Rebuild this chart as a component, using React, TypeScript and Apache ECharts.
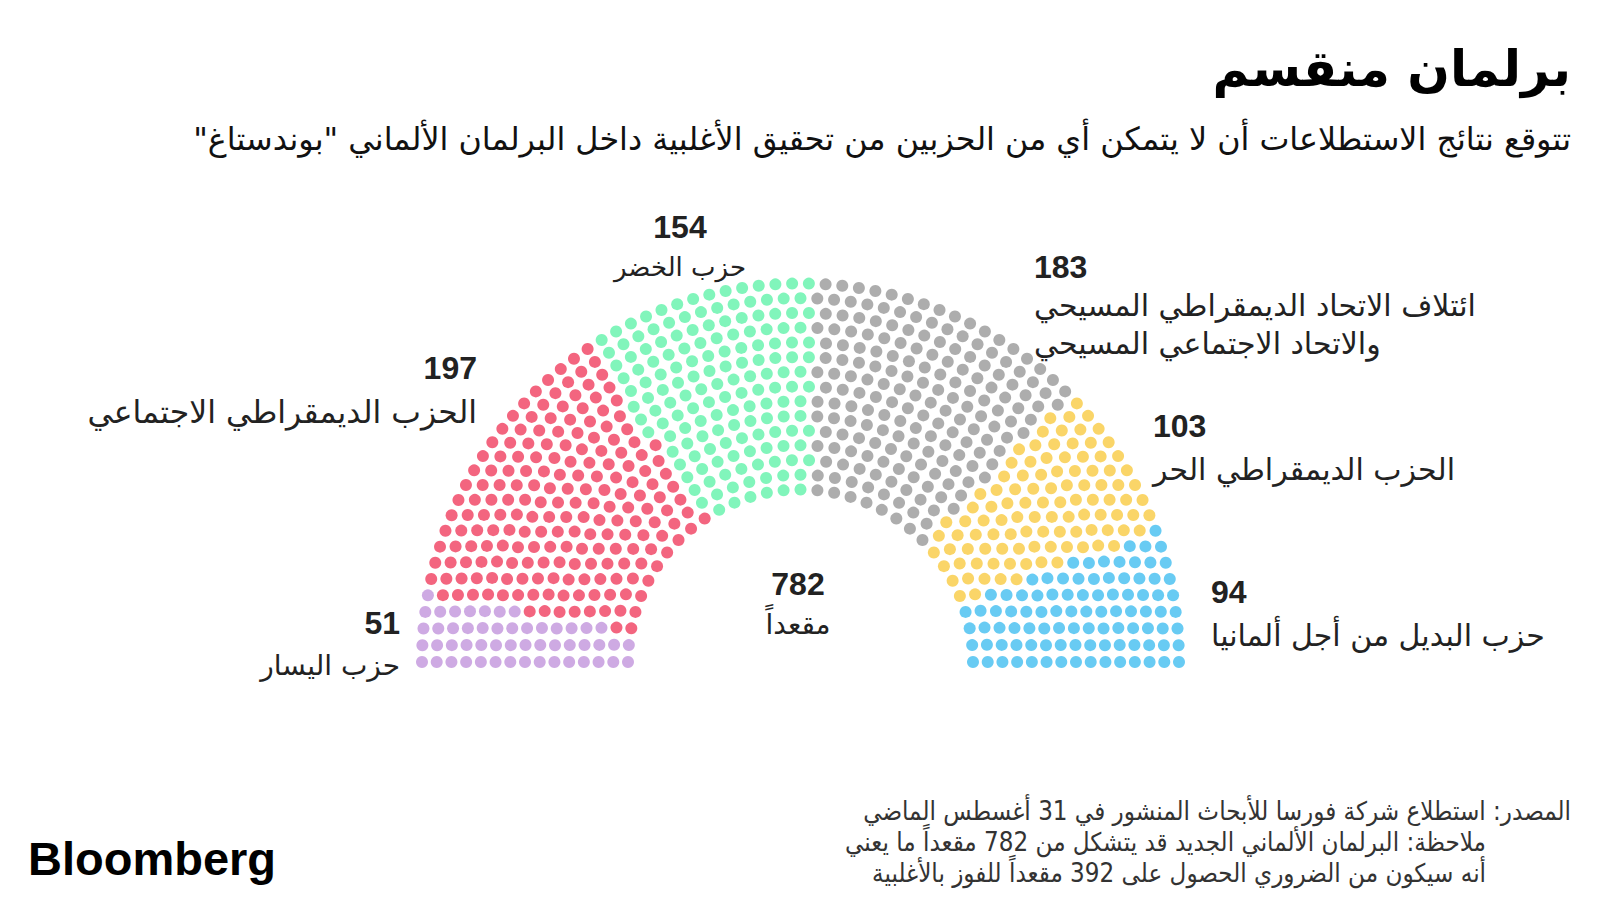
import React, { useEffect, useRef } from "react";
import * as echarts from "echarts";

// ---- Data ----
const partyNames = [
  "حزب اليسار",
  "الحزب الديمقراطي الاجتماعي",
  "حزب الخضر",
  "ائتلاف الاتحاد الديمقراطي المسيحي والاتحاد الاجتماعي المسيحي",
  "الحزب الديمقراطي الحر",
  "حزب البديل من أجل ألمانيا",
];
const partySeats = [51, 197, 154, 183, 103, 94];
const partyColors = ["#c295dc", "#f03e5f", "#62f2aa", "#999999", "#f9ca42", "#42bef0"];
const labelLines = [
  ["حزب اليسار"],
  ["الحزب الديمقراطي الاجتماعي"],
  ["حزب الخضر"],
  ["ائتلاف الاتحاد الديمقراطي المسيحي", "والاتحاد الاجتماعي المسيحي"],
  ["الحزب الديمقراطي الحر"],
  ["حزب البديل من أجل ألمانيا"],
];
const totalSeats = 782;
const totalLabel = "مقعداً";
const titleText = "برلمان منقسم";
const subtitleText =
  'تتوقع نتائج الاستطلاعات أن لا يتمكن أي من الحزبين من تحقيق الأغلبية داخل البرلمان الألماني "بوندستاغ"';
const footerLines = [
  "المصدر: استطلاع شركة فورسا للأبحاث المنشور في 31 أغسطس الماضي",
  "ملاحظة: البرلمان الألماني الجديد قد يتشكل من 782 مقعداً ما يعني",
  "أنه سيكون من الضروري الحصول على 392 مقعداً للفوز بالأغلبية",
];

// ---- Layout constants ----
const ROWS = 15;
const R_IN = 172.5;
const R_OUT = 378.5;
const CX = 800.5;
const CY = 662;
const DOT = 12;

const AR = "DejaVu Sans";
const NUM = "Liberation Sans";
const rtl = (s: string) => "\u202B" + s + "\u202C";

function buildSeats() {
  const radii = Array.from({ length: ROWS }, (_, i) => R_IN + ((R_OUT - R_IN) * i) / (ROWS - 1));
  const sumR = radii.reduce((a, b) => a + b, 0);
  const exact = radii.map((r) => (totalSeats * r) / sumR);
  const counts = exact.map((e) => Math.floor(e));
  const rem = totalSeats - counts.reduce((a, b) => a + b, 0);
  const order = exact
    .map((e, i) => [e - Math.floor(e), i])
    .sort((a, b) => b[0] - a[0]);
  for (let j = 0; j < rem; j++) counts[order[j][1]]++;
  const all: { r: number; a: number }[] = [];
  radii.forEach((r, i) => {
    const n = counts[i];
    for (let k = 0; k < n; k++) all.push({ r, a: (180 * k) / (n - 1) });
  });
  all.sort((p, q) => p.a - q.a || q.r - p.r);
  const groups: number[][][] = [];
  let idx = 0;
  partySeats.forEach((s) => {
    groups.push(all.slice(idx, idx + s).map((p) => [p.r, p.a]));
    idx += s;
  });
  return groups;
}

export default function App() {
  const ref = useRef<HTMLDivElement>(null);
  useEffect(() => {
    if (!ref.current) return;
    const chart = echarts.init(ref.current, undefined, { renderer: "svg" });
    const groups = buildSeats();

    const txt = (
      text: string,
      x: number,
      y: number,
      size: number,
      opts: { align?: string; weight?: string | number; family?: string; fill?: string } = {}
    ) => ({
      type: "text",
      x,
      y,
      silent: true,
      style: {
        text,
        fill: opts.fill || "#222",
        fontSize: size,
        fontWeight: opts.weight || "normal",
        fontFamily: opts.family || AR,
        align: opts.align || "left",
        verticalAlign: "middle",
      },
    });

    // label anchor positions: [x, numberY, textY, align]
    const anchors: [number, number, number, string][] = [
      [400, 623, 665, "right"],
      [477, 368, 412, "right"],
      [680, 227, 267, "center"],
      [1034, 267, 305, "left"],
      [1153, 426, 469, "left"],
      [1211, 592, 635, "left"],
    ];
    const labelSizes = [28, 31.5, 26, 30, 30, 30];

    const graphics: any[] = [
      txt(titleText, 1571, 69, 50, { align: "right", weight: "bold", fill: "#000" }),
      txt(rtl(subtitleText), 1571, 138, 31.8, { align: "right", fill: "#111" }),
      txt("Bloomberg", 28, 858, 47, { family: NUM, weight: "bold", fill: "#000" }),
      txt(String(totalSeats), 798, 584, 32, { align: "center", family: NUM, weight: "bold" }),
      txt(totalLabel, 798, 624, 28, { align: "center" }),
    ];
    anchors.forEach(([x, ny, ty, align], i) => {
      graphics.push(txt(String(partySeats[i]), x, ny, 32, { align, family: NUM, weight: "bold" }));
      labelLines[i].forEach((line, j) => {
        graphics.push(txt(rtl(line), x, ty + j * 38, labelSizes[i], { align }));
      });
    });
    const footerX = [1571, 1486, 1486];
    footerLines.forEach((line, i) => {
      graphics.push(
        txt(rtl(line), footerX[i], 811 + i * 31, 25.7, {
          align: "right",
          family: "DejaVu Sans Condensed",
          fill: "#333",
        })
      );
    });

    chart.setOption({
      animation: false,
      backgroundColor: "#ffffff",
      polar: { center: [CX, CY], radius: [0, R_OUT] },
      angleAxis: {
        type: "value",
        min: 0,
        max: 360,
        startAngle: 180,
        clockwise: true,
        show: false,
        splitLine: { show: false },
      },
      radiusAxis: {
        type: "value",
        min: 0,
        max: R_OUT,
        show: false,
        splitLine: { show: false },
      },
      series: groups.map((data, i) => ({
        type: "scatter",
        name: partyNames[i],
        coordinateSystem: "polar",
        symbol: "circle",
        symbolSize: DOT,
        itemStyle: { color: partyColors[i] },
        data,
        silent: true,
      })),
      graphic: graphics,
    });
    return () => chart.dispose();
  }, []);
  return (
    <div
      ref={ref}
      style={{ position: "absolute", left: 0, top: 0, width: 1600, height: 900, background: "#fff" }}
    />
  );
}
